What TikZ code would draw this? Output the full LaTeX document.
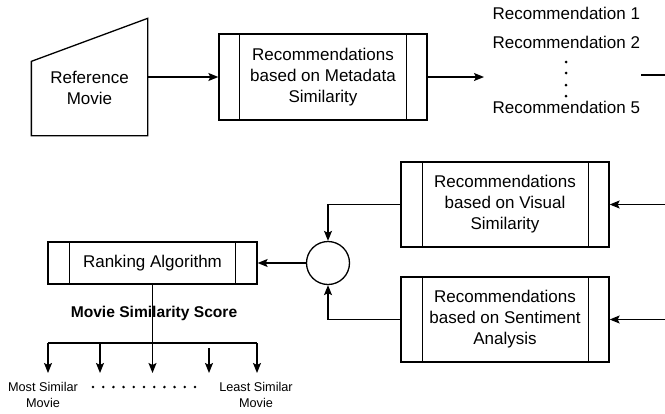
\documentclass[tikz,border=0pt]{standalone}
\usepackage{fontspec}
\setmainfont{Liberation Sans}
\usetikzlibrary{arrows.meta}
\begin{document}
\begin{tikzpicture}[x=1pt,y=-1pt,
  line width=1.3pt,
  arr/.style={-{Stealth[length=10pt,width=8pt,inset=2pt]}},
  procbox/.style={draw,minimum width=208pt,minimum height=86pt,inner sep=0pt},
  txt/.style={font=\fontsize{17}{21}\selectfont,align=center,inner sep=0pt},
  small/.style={font=\fontsize{12.7}{16}\selectfont,align=center,inner sep=0pt},
  dotmark/.style={circle,fill,inner sep=0pt,minimum size=3pt}
]
\useasboundingbox (0,0) rectangle (665,413);

% Reference movie (manual input shape)
\node[minimum width=115pt,minimum height=116pt,inner sep=0pt] (ref) at (89.5,77) {};
\draw (ref.south west) -- (ref.south east) -- (ref.north east) -- ([yshift=-43pt]ref.north west) -- cycle;
\node[txt] (reftext) at (89.5,87.5) {Reference\\Movie};

% Metadata box
\node[procbox] (meta) at (323,77) {};
\draw ([xshift=21pt]meta.north west) -- ([xshift=21pt]meta.south west);
\draw ([xshift=-21pt]meta.north east) -- ([xshift=-21pt]meta.south east);
\node[txt] (metatext) at (323,77) {Recommendations\\based on Metadata\\Similarity};

\draw[arr] (ref.east |- meta.west) -- (meta.west);

% Recommendation list
\coordinate (listin) at (484,77);
\draw[arr] (meta.east) -- (listin);
\node[txt,anchor=west] (r1) at (492,13) {Recommendation 1};
\node[txt,anchor=west] (r2) at (492,42) {Recommendation 2};
\node[txt,anchor=west] (r5) at (492,107) {Recommendation 5};
\node[dotmark] (d1) at (566,62) {};
\node[dotmark] (d2) at (566,73) {};
\node[dotmark] (d3) at (566,85) {};
\node[dotmark] (d4) at (566,96) {};
\coordinate (lo1) at (641,75);
\coordinate (lo2) at (665,75);
\draw (lo1) -- (lo2);

% Visual box
\node[procbox,minimum height=85pt] (vis) at (505,204.5) {};
\draw ([xshift=22pt]vis.north west) -- ([xshift=22pt]vis.south west);
\draw ([xshift=-21pt]vis.north east) -- ([xshift=-21pt]vis.south east);
\node[txt] (vistext) at (505,204) {Recommendations\\based on Visual\\Similarity};

% Sentiment box
\node[procbox,minimum height=85pt] (sent) at (505,319.5) {};
\draw ([xshift=22pt]sent.north west) -- ([xshift=22pt]sent.south west);
\draw ([xshift=-21pt]sent.north east) -- ([xshift=-21pt]sent.south east);
\node[txt] (senttext) at (505,319) {Recommendations\\based on Sentiment\\Analysis};

\coordinate (vin) at (665,204.5);
\coordinate (sin) at (665,319.5);
\draw[arr] (vin) -- (vis.east);
\draw[arr] (sin) -- (sent.east);

% Circle
\node[draw,circle,minimum size=43pt,inner sep=0pt] (c) at (328,263) {};
\draw[arr] (vis.west) -| (c.north);
\draw[arr] (sent.west) -| (c.south);

% Ranking box
\node[draw,minimum width=209pt,minimum height=42pt,inner sep=0pt] (rank) at (152.5,263) {};
\draw ([xshift=22pt]rank.north west) -- ([xshift=22pt]rank.south west);
\draw ([xshift=-22pt]rank.north east) -- ([xshift=-22pt]rank.south east);
\node[txt] (ranktext) at (152.5,263) {Ranking Algorithm};
\draw[arr] (c.west) -- (rank.east);

% Score distribution
\coordinate (bc) at (152.5,343);
\draw (rank.south) -- (bc);
\node[inner sep=0pt,font=\fontsize{15.6}{18}\selectfont\bfseries] (score) at (154,313) {Movie Similarity Score};
\coordinate (b1) at (48,343);
\coordinate (b2) at (100,343);
\coordinate (b4) at (209,348);
\coordinate (b5) at (257,343);
\coordinate (t1) at (48,373);
\coordinate (t2) at (100,373);
\coordinate (t3) at (152.5,373);
\coordinate (t4) at (209,373);
\coordinate (t5) at (257,373);
\draw (b1) -- (b5);
\draw[arr] (b1) -- (t1);
\draw[arr] (b2) -- (t2);
\draw[arr] (bc) -- (t3);
\draw[arr] (b4) -- (t4);
\draw[arr] (b5) -- (t5);

\node[small] (most) at (43,395) {Most Similar\\Movie};
\node[small] (least) at (256,395) {Least Similar\\Movie};
\foreach \i in {0,...,10} {
  \node[dotmark,minimum size=2.8pt] (sd\i) at (93+10.2*\i,387) {};
}
\end{tikzpicture}
\end{document}
